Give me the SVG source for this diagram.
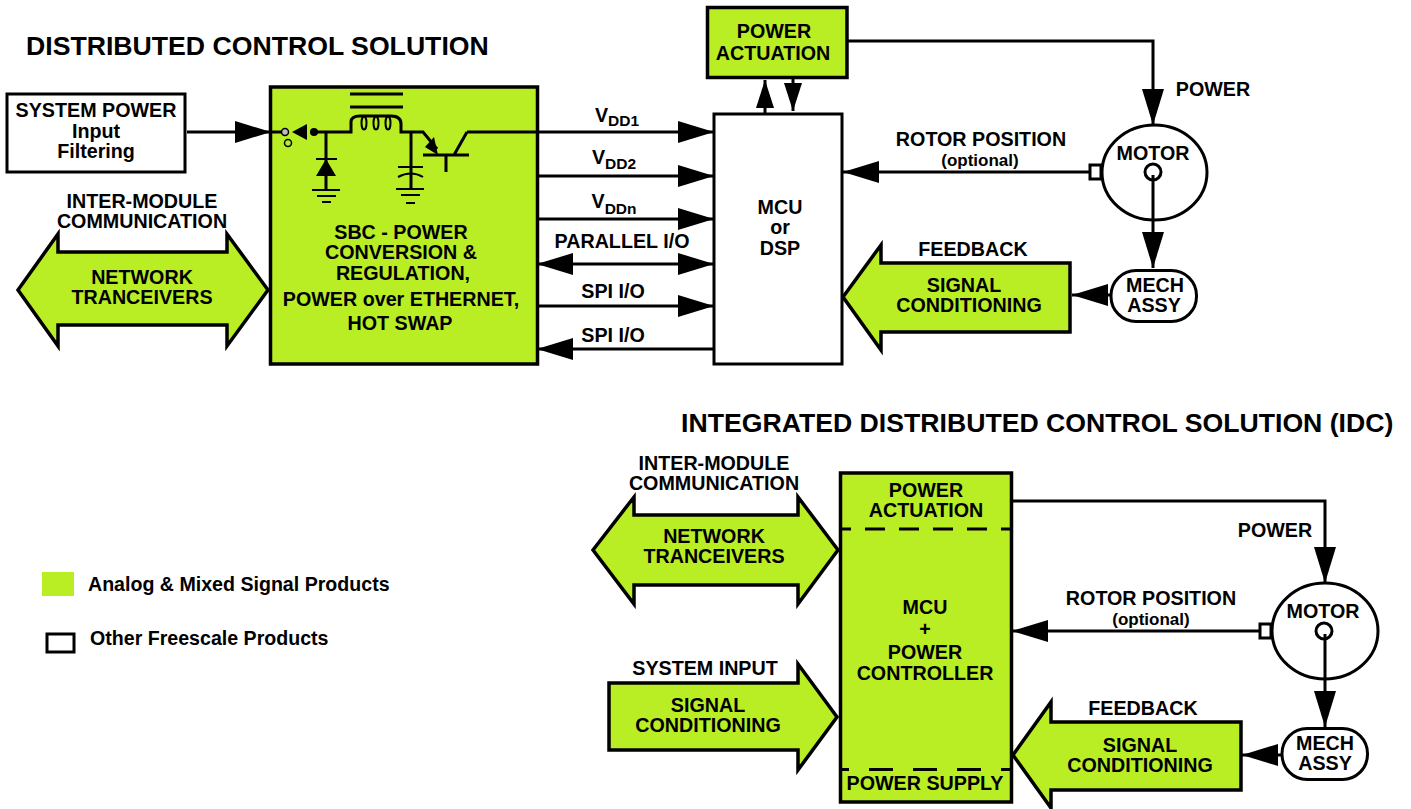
<svg xmlns="http://www.w3.org/2000/svg" width="1411" height="809" viewBox="0 0 1411 809">
<style>
text{font-family:"Liberation Sans",Arial,sans-serif;font-weight:bold;fill:#000;text-anchor:middle;font-size:19.700px}
.h{font-size:26.650px;text-anchor:start}
.l{text-anchor:start;font-size:19.600px}
.o{font-size:17px}
.sub{font-size:15.500px}
.g{fill:#b9ed24;stroke:#000;stroke-width:3.5}
.w{fill:#fff;stroke:#000;stroke-width:3}
.c{fill:none;stroke:#000;stroke-width:3}
.t{fill:none;stroke:#000;stroke-width:2}
.d{fill:none;stroke:#000;stroke-width:3}
.a{fill:#000;stroke:none}
</style>
<defs>
<marker id="ah" markerUnits="userSpaceOnUse" markerWidth="36" markerHeight="24" refX="36" refY="12" orient="auto-start-reverse"><path d="M0 1L36 12L0 23Z" fill="#000"/></marker>
<marker id="as" markerUnits="userSpaceOnUse" markerWidth="28" markerHeight="20" refX="28" refY="10" orient="auto-start-reverse"><path d="M0 1L28 10L0 19Z" fill="#000"/></marker>
</defs>
<text class="h" x="26" y="55">DISTRIBUTED CONTROL SOLUTION</text>
<text class="h" x="681" y="432">INTEGRATED DISTRIBUTED CONTROL SOLUTION (IDC)</text>

<g id="connectors">
<path class="c" d="M187 132H271" marker-end="url(#ah)"/>
<path class="c" d="M537 132H714" marker-end="url(#ah)"/>
<path class="c" d="M537 176H714" marker-end="url(#ah)"/>
<path class="c" d="M537 219H714" marker-end="url(#ah)"/>
<path class="c" d="M537 264H714" marker-start="url(#ah)" marker-end="url(#ah)"/>
<path class="c" d="M537 306H714" marker-end="url(#ah)"/>
<path class="c" d="M714 349H537" marker-end="url(#ah)"/>
<path class="c" d="M765 113V80" marker-end="url(#as)"/>
<path class="c" d="M793 79V111" marker-end="url(#as)"/>
<path class="c" d="M848 41H1153V125" marker-end="url(#ah)"/>
<path class="c" d="M1090 172H843" marker-end="url(#ah)"/>
<path class="c" d="M1111 295H1072" marker-end="url(#ah)"/>
<path class="c" d="M1012 501H1325V583" marker-end="url(#ah)"/>
<path class="c" d="M1260 631H1012" marker-end="url(#ah)"/>
<path class="c" d="M1282 755H1242" marker-end="url(#ah)"/>
</g>

<g id="system-power"><rect class="w" x="7" y="94" width="178" height="78"/>
<text x="96" y="117">SYSTEM POWER</text><text x="96" y="138">Input</text><text x="96" y="158">Filtering</text></g>

<g id="sbc"><rect class="g" x="270.500" y="87" width="267" height="277"/>
<text x="401" y="239">SBC - POWER</text><text x="401" y="259">CONVERSION &amp;</text><text x="403" y="280">REGULATION,</text><text x="401" y="306">POWER over ETHERNET,</text><text x="400" y="330">HOT SWAP</text>
<path class="c" d="M271 132H284M314 132H351V122Q351 116 360 116H391Q401 116 401 124V132H423L437 149M467 132H537M467 132L454 155M423 155H469M446 155V172M326 132V190M411 132V189"/>
<path class="c" d="M350 94H403M350 107H403"/>
<ellipse class="t" cx="364" cy="123" rx="2.500" ry="6.500"/><ellipse class="t" cx="376" cy="123" rx="2.500" ry="6.500"/><ellipse class="t" cx="388" cy="123" rx="2.500" ry="6.500"/>
<path class="a" d="M292 132L307 124V140ZM326 159L336 176H316ZM438 155L425 147L434 137Z"/>
<circle class="a" cx="314" cy="132" r="4"/>
<circle cx="285" cy="132" r="3.500" fill="#bbb" stroke="#000" stroke-width="1.500"/>
<circle cx="288" cy="143" r="3.500" fill="none" stroke="#000" stroke-width="1.500"/>
<path class="t" d="M316 159H337M312 190H340M317 196H336M322 202H331M398 167H423M396 189H424M401 195H420M406 203H415"/>
<path class="t" d="M398 177Q411 170 423 177"/>
</g>

<g id="network1"><path class="g" stroke-width="2.500" d="M18 290L58 234V252H227V234L268 290L227 346V325H58V346Z"/>
<text x="142" y="284">NETWORK</text><text x="142" y="304">TRANCEIVERS</text></g>
<text x="142" y="208">INTER-MODULE</text><text x="142" y="228">COMMUNICATION</text>

<g id="power-actuation"><rect class="g" x="707.500" y="7.500" width="139.500" height="70"/>
<text x="774" y="38">POWER</text><text x="773" y="60">ACTUATION</text></g>

<g id="mcu"><rect class="w" x="714" y="114" width="128" height="250"/>
<text x="780" y="214">MCU</text><text x="780" y="234">or</text><text x="780" y="255">DSP</text></g>

<g id="motor1"><ellipse class="w" cx="1154.500" cy="172.500" rx="52.500" ry="47.500"/><rect class="w" x="1090" y="165" width="11" height="14"/>
<text x="1153" y="160">MOTOR</text><circle class="w" cx="1153" cy="172" r="8"/></g>
<path class="c" d="M1153 175V268" marker-end="url(#ah)"/>
<g id="mech1"><rect class="w" x="1111" y="270.500" width="85.500" height="51" rx="25" ry="25"/>
<text x="1155" y="292">MECH</text><text x="1154" y="312">ASSY</text></g>

<g id="signal1"><path class="g" d="M843 297L881 245V263H1070V332H881V350Z"/>
<text x="964" y="292">SIGNAL</text><text x="969" y="312">CONDITIONING</text></g>

<text x="1213" y="96">POWER</text>
<text x="981" y="146">ROTOR POSITION</text><text class="o" x="980" y="166">(optional)</text>
<text x="973" y="256">FEEDBACK</text>
<text x="617" y="122">V<tspan class="sub" dy="4">DD1</tspan></text>
<text x="614" y="164">V<tspan class="sub" dy="5">DD2</tspan></text>
<text x="614" y="208">V<tspan class="sub" dy="6">DDn</tspan></text>
<text x="622" y="248">PARALLEL I/O</text>
<text x="613" y="298">SPI I/O</text>
<text x="613" y="342">SPI I/O</text>

<text x="714" y="470">INTER-MODULE</text><text x="714" y="490">COMMUNICATION</text>
<g id="network2"><path class="g" stroke-width="2.500" d="M593 550L634 497V515H798V497L838 550L798 604V585H634V604Z"/>
<text x="714" y="543">NETWORK</text><text x="714" y="563">TRANCEIVERS</text></g>

<text x="705" y="675">SYSTEM INPUT</text>
<g id="signal2"><path class="g" d="M609 683H798V664L837 717L798 770V750H609Z"/>
<text x="708" y="712">SIGNAL</text><text x="708" y="732">CONDITIONING</text></g>

<g id="idc"><rect class="g" x="840.500" y="473" width="171" height="329"/>
<path class="d" stroke-dasharray="20 14" stroke-dashoffset="11" d="M842 529H1010"/>
<path class="d" stroke-dasharray="24 20" stroke-dashoffset="17" d="M842 769.500H1010"/>
<text x="926" y="497">POWER</text><text x="926" y="517">ACTUATION</text>
<text x="925" y="614">MCU</text><text x="925" y="636">+</text><text x="925" y="659">POWER</text><text x="925" y="680">CONTROLLER</text>
<text x="925" y="790">POWER SUPPLY</text></g>

<g id="signal3"><path class="g" d="M1013 755L1051 702V722H1241V790H1051V808Z"/>
<text x="1140" y="752">SIGNAL</text><text x="1140" y="772">CONDITIONING</text></g>

<g id="motor2"><ellipse class="w" cx="1325" cy="631" rx="53" ry="48"/><rect class="w" x="1260" y="624" width="11" height="14"/>
<text x="1323" y="618">MOTOR</text><circle class="w" cx="1324" cy="631" r="8"/></g>
<path class="c" d="M1325 634V727" marker-end="url(#ah)"/>
<g id="mech2"><rect class="w" x="1282" y="728.500" width="85.500" height="51" rx="25" ry="25"/>
<text x="1325" y="750">MECH</text><text x="1325" y="770">ASSY</text></g>

<text x="1275" y="537">POWER</text>
<text x="1151" y="605">ROTOR POSITION</text><text class="o" x="1151" y="625">(optional)</text>
<text x="1143" y="715">FEEDBACK</text>

<g id="legend"><rect x="42" y="572" width="32" height="24" fill="#b9ed24"/>
<text class="l" x="88" y="591">Analog &amp; Mixed Signal Products</text>
<rect class="w" x="47" y="634" width="27" height="18"/>
<text class="l" x="90" y="645">Other Freescale Products</text></g>
</svg>
